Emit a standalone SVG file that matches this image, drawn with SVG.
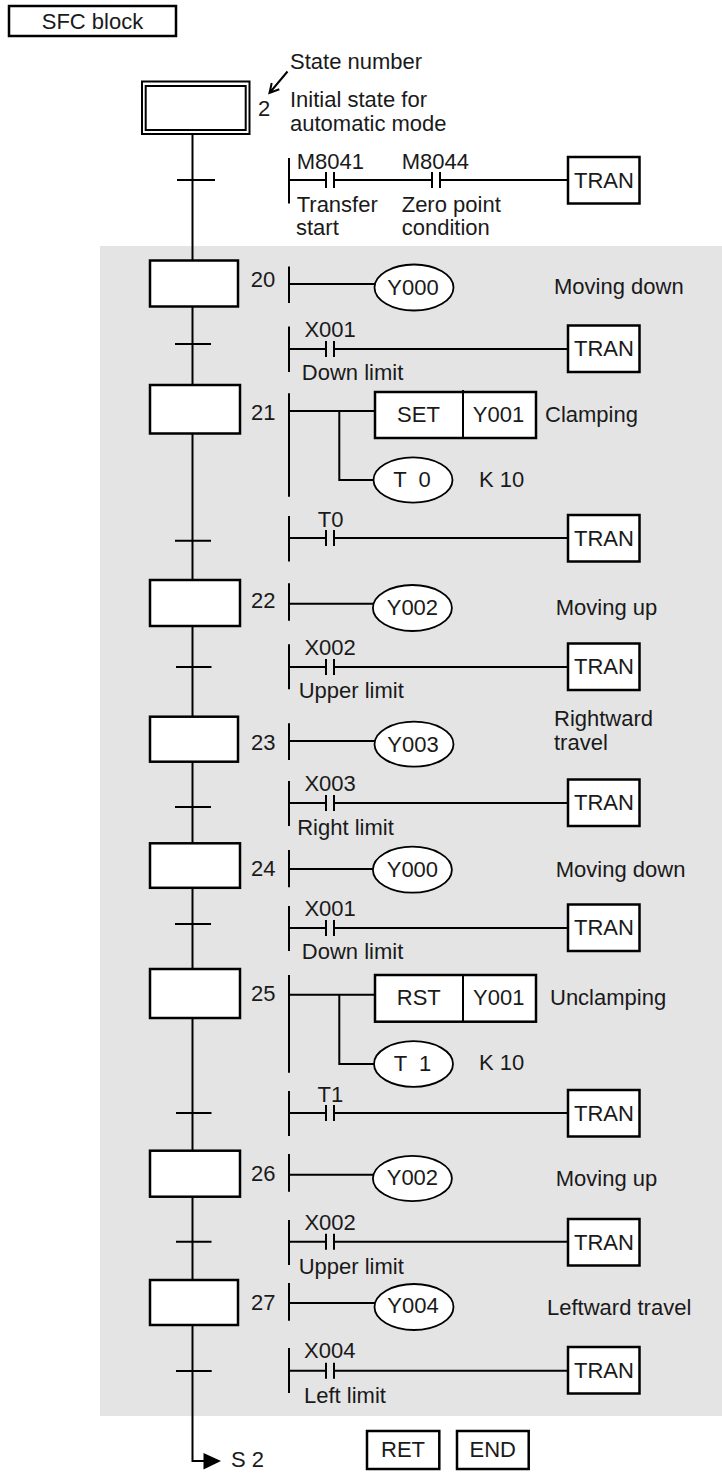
<svg xmlns="http://www.w3.org/2000/svg" width="722" height="1473" viewBox="0 0 722 1473">
<style>
text{font-family:"Liberation Sans",Arial,sans-serif;font-size:22px;fill:#1a1a1a}
.m{text-anchor:middle}
.l{fill:none;stroke:#000;stroke-width:2}
.b{fill:#fff;stroke:#000;stroke-width:2.500}
.e{fill:#fff;stroke:#000;stroke-width:1.800}
.t{fill:#fff;stroke:#000;stroke-width:2.500}
</style>
<defs>
<g id="tran"><rect class="t" x="568" y="0" width="71.500" height="46.500"/><text class="m" x="604" y="30.500">TRAN</text></g>
<path id="contact" class="l" d="M0 -8V8M8 -8V8"/>
</defs>
<rect x="100" y="246" width="622" height="1170" fill="#e4e4e4"/>
<g id="connectors">
<path class="l" d="M192.500 134V1461H205"/>
<path d="M203.500 1453L221 1461L203.500 1469.500Z" fill="#000"/>
<path class="l" d="M177 180H215M175 344H211M175 540.700H211M176 667H211.500M175 807H211M175 924H211M176 1113H211.500M176 1241.700H211.500M176 1371H211.700"/>
<path class="l" d="M287.500 71.500L269.500 93M271.700 83L269.500 93L279.300 89.300"/>
<path class="l" d="M289 158V203.500M289 180H326M334 180H432.500M440 180H568"/>
<path class="l" d="M289 266.500V303M289 284H375"/>
<path class="l" d="M289 326.500V372M289 349H326M334 349H568"/>
<path class="l" d="M289 393.300V496.700M289 411H375M339.300 411V480H374"/>
<path class="l" d="M289 516V561.500M289 538H326M334 538H568"/>
<path class="l" d="M289 583.300V620.700M289 603.700H373"/>
<path class="l" d="M289 644.300V689.300M289 667H326M334 667H568"/>
<path class="l" d="M289 723.300V760M289 741H375"/>
<path class="l" d="M289 781V826M289 803H326M334 803H568"/>
<path class="l" d="M289 850V887.300M289 869H373"/>
<path class="l" d="M289 906V951M289 928H326M334 928H568"/>
<path class="l" d="M289 975V1072.700M289 994.700H375M339.300 994.700V1064H374"/>
<path class="l" d="M289 1091V1136M289 1113H326M334 1113H568"/>
<path class="l" d="M289 1154V1191.700M289 1174.700H373"/>
<path class="l" d="M289 1220V1265M289 1241.700H326M334 1241.700H568"/>
<path class="l" d="M289 1283V1320.700M289 1303H375"/>
<path class="l" d="M289 1348V1393M289 1370.700H326M334 1370.700H568"/>
<use href="#contact" x="326" y="180"/><use href="#contact" x="432" y="180"/>
<use href="#contact" x="326" y="349"/><use href="#contact" x="326" y="538"/>
<use href="#contact" x="326" y="667"/><use href="#contact" x="326" y="803"/>
<use href="#contact" x="326" y="928"/><use href="#contact" x="326" y="1113"/>
<use href="#contact" x="326" y="1241.700"/><use href="#contact" x="326" y="1370.700"/>
</g>
<g id="sfc-block"><rect class="t" x="9" y="6" width="167" height="30"/><text class="m" x="92.500" y="28.500">SFC block</text></g>
<g id="state-2"><rect class="l" x="142" y="81.500" width="107.500" height="52.500" fill="#fff"/><rect class="l" x="145.700" y="86" width="100" height="44" fill="#fff"/><text x="258" y="116">2</text></g>
<g id="notes"><text x="290" y="68.500">State number</text><text x="290" y="106.700">Initial state for</text><text x="290" y="130.700">automatic mode</text>
<text x="296.700" y="168.500">M8041</text><text x="401.700" y="168.500">M8044</text><text x="296.700" y="211.700">Transfer</text><text x="296" y="234.500">start</text><text x="401.700" y="211.700">Zero point</text><text x="401.700" y="234.500">condition</text></g>
<use href="#tran" y="157"/>
<g id="step-20"><rect class="b" x="150" y="260.500" width="88" height="46"/><text x="250.700" y="287">20</text><ellipse class="e" cx="414" cy="287.500" rx="39.500" ry="23"/><text class="m" x="413" y="295">Y000</text><text x="554" y="293.500">Moving down</text></g>
<g id="trans-20"><text x="304.400" y="336.700">X001</text><text x="301.800" y="380">Down limit</text><use href="#tran" y="325.500"/></g>
<g id="step-21"><rect class="b" x="150" y="385" width="90" height="48.500"/><text x="251" y="420">21</text>
<rect class="b" x="375" y="392" width="161" height="46"/><path class="l" d="M375 438H536M463 390V438"/><text class="m" x="418.500" y="421.700">SET</text><text class="m" x="498.500" y="421.700">Y001</text><text x="545" y="421.700">Clamping</text>
<ellipse class="e" cx="413" cy="480" rx="39.500" ry="22.700"/><text class="m" x="412" y="486.700" xml:space="preserve">T  0</text><text x="479" y="486.700">K 10</text></g>
<g id="trans-21"><text x="317.700" y="526.700">T0</text><use href="#tran" y="515"/></g>
<g id="step-22"><rect class="b" x="150" y="580" width="90" height="46"/><text x="251" y="608.300">22</text><ellipse class="e" cx="412.400" cy="608" rx="39.500" ry="23"/><text class="m" x="412.400" y="615">Y002</text><text x="555.800" y="615">Moving up</text></g>
<g id="trans-22"><text x="304.400" y="655">X002</text><text x="298.700" y="698.300">Upper limit</text><use href="#tran" y="643.500"/></g>
<g id="step-23"><rect class="b" x="150" y="716.700" width="88" height="45"/><text x="251" y="750">23</text><ellipse class="e" cx="414" cy="744.200" rx="39.500" ry="22.500"/><text class="m" x="413" y="751.700">Y003</text><text x="554" y="726">Rightward</text><text x="554" y="750">travel</text></g>
<g id="trans-23"><text x="304.400" y="790.700">X003</text><text x="297.200" y="835">Right limit</text><use href="#tran" y="779.500"/></g>
<g id="step-24"><rect class="b" x="150" y="843.300" width="90" height="44.500"/><text x="251" y="875.700">24</text><ellipse class="e" cx="412.400" cy="869.700" rx="39.500" ry="23"/><text class="m" x="412.400" y="876.700">Y000</text><text x="555.800" y="876.700">Moving down</text></g>
<g id="trans-24"><text x="304.400" y="915.700">X001</text><text x="301.800" y="959">Down limit</text><use href="#tran" y="904.500"/></g>
<g id="step-25"><rect class="b" x="150" y="969" width="90" height="49"/><text x="251" y="1000.700">25</text>
<rect class="b" x="375" y="975" width="161" height="46.700"/><path class="l" d="M463 975V1021.700"/><text class="m" x="418.800" y="1005">RST</text><text class="m" x="498.800" y="1005">Y001</text><text x="550" y="1005">Unclamping</text>
<ellipse class="e" cx="413.500" cy="1064" rx="39.500" ry="22.800"/><text class="m" x="412.500" y="1070.700" xml:space="preserve">T  1</text><text x="479" y="1070.300">K 10</text></g>
<g id="trans-25"><text x="317.600" y="1101.700">T1</text><use href="#tran" y="1090"/></g>
<g id="step-26"><rect class="b" x="150" y="1150.700" width="90" height="46"/><text x="251" y="1180.700">26</text><ellipse class="e" cx="412.400" cy="1178.500" rx="39.500" ry="22.700"/><text class="m" x="412.400" y="1185.300">Y002</text><text x="555.800" y="1185.700">Moving up</text></g>
<g id="trans-26"><text x="304.400" y="1230">X002</text><text x="298.700" y="1274">Upper limit</text><use href="#tran" y="1219"/></g>
<g id="step-27"><rect class="b" x="150" y="1280" width="88" height="45"/><text x="251" y="1310">27</text><ellipse class="e" cx="414" cy="1307" rx="39.500" ry="23"/><text class="m" x="413" y="1313.300">Y004</text><text x="547" y="1315">Leftward travel</text></g>
<g id="trans-27"><text x="304" y="1358">X004</text><text x="304" y="1403">Left limit</text><use href="#tran" y="1347"/></g>
<g id="ret"><rect class="t" x="367" y="1431" width="72.300" height="38"/><text class="m" x="403" y="1456.700">RET</text></g>
<g id="end"><rect class="t" x="457" y="1431" width="71.700" height="38"/><text class="m" x="492.700" y="1456.700">END</text></g>
<text x="231" y="1466.700">S 2</text>
</svg>
